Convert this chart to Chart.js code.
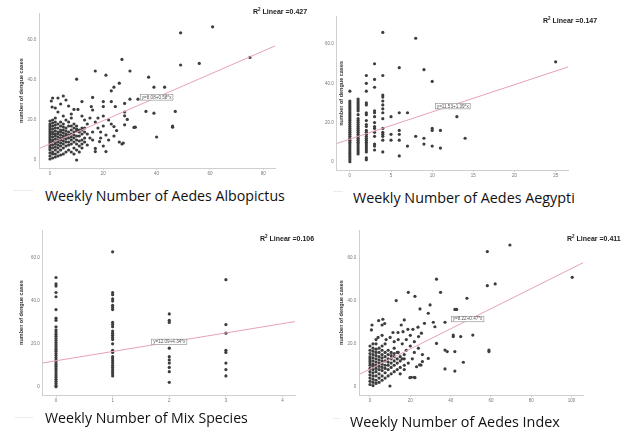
<!DOCTYPE html>
<html><head><meta charset="utf-8">
<script src="https://cdn.jsdelivr.net/npm/chart.js@4"></script>
<style>
html,body{margin:0;padding:0;background:#fff;}
body{width:640px;height:435px;position:relative;overflow:hidden;}
canvas{position:absolute;}
.r2{position:absolute;font-family:"Liberation Sans",Arial,sans-serif;font-weight:bold;font-size:7px;color:#222;white-space:nowrap;line-height:8px;}
.r2 sup{font-size:4.5px;vertical-align:top;line-height:1;}
.cap{position:absolute;white-space:nowrap;color:#111;line-height:1;font-family:"Open Sans",sans-serif;}
.leg{position:absolute;height:1px;background:#ebebeb;}
</style></head><body>
<canvas id="c1"></canvas><canvas id="c2"></canvas><canvas id="c3"></canvas><canvas id="c4"></canvas>
<div class="r2" style="left:253px;top:8px;">R<sup>2</sup> Linear =0.427</div>
<div class="r2" style="left:543px;top:17px;">R<sup>2</sup> Linear =0.147</div>
<div class="r2" style="left:260px;top:235px;">R<sup>2</sup> Linear =0.106</div>
<div class="r2" style="left:567px;top:235px;">R<sup>2</sup> Linear =0.411</div>
<div class="leg" style="left:13px;top:190px;width:20px;"></div>
<div class="leg" style="left:333px;top:191px;width:10px;"></div>
<div class="leg" style="left:15px;top:417px;width:18px;"></div>
<div class="leg" style="left:333px;top:418px;width:7px;"></div>
<div class="cap" id="t1" data-w="240" style="left:45px;">Weekly Number of Aedes Albopictus</div>
<div class="cap" id="t2" data-w="222" style="left:353px;">Weekly Number of Aedes Aegypti</div>
<div class="cap" id="t3" data-w="203" style="left:45px;">Weekly Number of Mix Species</div>
<div class="cap" id="t4" data-w="210" style="left:350px;">Weekly Number of Aedes Index</div>
<script>
// ---------- DATA ----------
const yTicks = [0, 20, 40, 60];
const yAxisTitle = "number of dengue cases";

const albopictusTicks = [0, 20, 40, 60, 80];
const albopictusFit = [8.08, 0.58];
const albopictusEq = "y=8.08+0.58*x";
const albopictusPts = [
[61,66.6],[49,63.6],[75,51.3],[56,48.3],[49,47.5],[27,50.3],[17,44.5],[21,42.4],[30,44.5],[10,40.4],[37,41.4],[26,38.4],[24,36.4],[23,34.6],[39,36.4],[43,36.4],[33,30.4],[30,30.4],[47,24.3],[36,24.3],[39,23.4],[28,22.1],[46,17],[46,16.4],[32,16.4],[28,17.6],[40,11.5],[27.5,8.5],[27,8],[16,31.3],[12,29.2],[20,29.2],[23,29.2],[24.5,26.7],[28,28.3],[28,24],[20,26.7],[15.5,26.7],[16,25],[9,25.3],[10.5,25.3],[29,20.3],[31.5,16.3],[24,16.7],[25,14.7],[21,12.5],[22,10],[18.6,9.2],[17,4.2],[21,4.2],[14,7.5],[17,5.8],[10,0],
[1,31],[0.5,29.5],[3,31],[5,32],[6,30],[0.8,26.5],[2,26],[4,28],[7,27],[3,24],[5,22],[8,23],
[12,22],[13,20],[14,18],[15,21],[17,19],[18,16],[19,14],[20,17],[22,20],[23,18],[20,22],[18,21],[16,14],[14,13],[15,11],[13,9],[12,6],[11,4],[9,3],[16,10],[19,11],[24,12],[26,9],[20,7],
[0,0.5],[0,2],[0,3.5],[0,5],[0,6],[0,7],[0,8],[0,9],[0,10],[0,11],[0,12],[0,13],[0,14],[0,15],[0,16],[0,17],[0,18],[0,19.5],
[1,1],[1,3],[1,4],[1,6],[1,7.5],[1,9],[1,10],[1,11.5],[1,13],[1,14],[1,15.5],[1,17],[1,18.5],[1,20],
[2,1.5],[2,3],[2,5],[2,6.5],[2,8],[2,9],[2,10.5],[2,12],[2,13],[2,14.5],[2,16],[2,17.5],[2,19],[2,21],
[3,2],[3,4],[3,6],[3,7.5],[3,9],[3,10],[3,11.5],[3,13],[3,14],[3,16],[3,18],
[4,2.5],[4,5],[4,7],[4,8.5],[4,10],[4,11],[4,12.5],[4,14],[4,15],[4,17],[4,19],
[5,3],[5,6],[5,8],[5,9.5],[5,11],[5,12],[5,13.5],[5,15],[5,16.5],[5,18],
[6,4],[6,7],[6,9],[6,10.5],[6,12],[6,13],[6,14.5],[6,16],[6,20],
[7,5],[7,7.5],[7,9],[7,11],[7,12.5],[7,14],[7,17],[7,19],
[8,4],[8,8],[8,10],[8,11.5],[8,13],[8,15],[8,17],[8,21],
[9,6],[9,9],[9,11],[9,12.5],[9,14],[9,16],[9,18],
[10,5],[10,8],[10,10],[10,12],[10,14.5],[10,15.5],[10,17],
[11,7],[11,9.5],[11,12],[11,14],[11,15],
[12,8],[12,10],[12,13],[12,15],[12,16],
[13,11],[13,14],[13,16]
];

const aegyptiTicks = [0, 5, 10, 15, 20, 25];
const aegyptiFit = [11.53, 1.39];
const aegyptiEq = "y=11.53+1.39*x";
const aegyptiPts = [
[0,36],[0,31],[0,30],[0,29],[0,28],[0,27],[0,26],[0,25],[0,24],[0,23],[0,22],[0,21],[0,20],[0,19],[0,18],[0,17],[0,16],[0,15],[0,14],[0,13],[0,12],[0,11],[0,10],[0,9],[0,8],[0,7],[0,6],[0,5],[0,4],[0,3],[0,2],[0,1],[0,0],
[1,32],[1,31],[1,30],[1,29],[1,28],[1,27],[1,26],[1,24],[1,22],[1,21],[1,20],[1,19],[1,18],[1,17],[1,16],[1,15],[1,14],[1,13],[1,12],[1,11],[1,10],[1,9],[1,8],[1,7],[1,6],[1,5],[1,4],
[2,44],[2,40],[2,36],[2,30],[2,29],[2,25],[2,24],[2,21],[2,19],[2,18],[2,16],[2,15],[2,14],[2,13],[2,12],[2,11],[2,10],[2,9],[2,8],[2,7],[2,6],[2,5],[2,2],[2,1],
[3,50],[3,42],[3,38],[3,26],[3,25],[3,23],[3,20],[3,18],[3,17],[3,15],[3,13],[3,9],[3,8],[3,6],
[4,66],[4,44],[4,34],[4,33],[4,31],[4,29],[4,27],[4,25],[4,22],[4,17],[4,15],[4,14],[4,13],[4,11],[4,5],
[5,23],[5,14],[5,11],
[6,48],[6,25],[6,16],[6,14],[6,11],[6,3],
[7,25],[7,8],
[8,63],[8,13],
[9,47],[9,12],[9,9],
[10,41],[10,17],[10,16],[10,8],
[11,16],[11,7],
[13,23],[14,12],[25,51]
];

const mixTicks = [0, 1, 2, 3, 4];
const mixFit = [12.09, 4.34];
const mixEq = "y=12.09+4.34*x";
const mixPts = [
[0,51],[0,48],[0,47],[0,44],[0,42],[0,36],[0,32],[0,31],[0,28],[0,26.5],[0,25.5],[0,24.5],[0,23.5],[0,22.5],[0,21.5],[0,20.5],[0,19.5],[0,18.5],[0,17.5],[0,16.5],[0,15.5],[0,14.5],[0,13.5],[0,12.5],[0,11.5],[0,10.5],[0,9.5],[0,8.5],[0,7.5],[0,6.5],[0,5.5],[0,4.5],[0,3.5],[0,2.5],[0,1.5],[0,0.5],[0,0],
[1,63],[1,44],[1,43],[1,41],[1,40],[1,38],[1,37],[1,36],[1,30],[1,29],[1,28],[1,26],[1,25],[1,24],[1,23],[1,22],[1,20],[1,17],[1,16],[1,14],[1,13],[1,12],[1,11],[1,10],[1,9],[1,8],[1,7],[1,6],[1,5],
[2,34],[2,31],[2,30],[2,18],[2,14],[2,12.5],[2,11],[2,9],[2,7],[2,2],
[3,50],[3,29],[3,25],[3,17],[3,16],[3,11],[3,8],[3,5]
];

const indexTicks = [0, 20, 40, 60, 80, 100];
const indexFit = [8.22, 0.47];
const indexEq = "y=8.22+0.47*x";
const indexPts = [
[69.4,66.2],[58.2,63.1],[100.3,51.1],[62.1,48],[58.2,47.2],[33,50.2],[19,44.1],[22.3,42.2],[35,44.1],[13,40.2],[48.1,41.3],[24.8,36.3],[29.8,38.2],[28.9,34.3],[42.1,36.1],[43,36.1],[37.2,30.1],[31.4,30.1],[32.2,28],[27,29.6],[51,24.1],[41.3,24.1],[41.3,23.4],[45,23.4],[33,20.2],[59,17.1],[59,16.4],[37.2,17.1],[38.3,16.4],[42.1,16.4],[28.9,13.2],[46.3,11.4],[37.2,8.3],[42.1,7.3],[25.3,10.1],[23.1,9.3],[19.8,4.2],[22.3,4.2],[9.9,0.3],
[6.4,31.5],[4.3,30.9],[6,28.8],[7.3,29.5],[1,28.8],[0.7,26.5],[17,31.2],[15.5,28.8],[23.8,27.8],[11.4,25.3],[13.9,25.3],[16.4,25.7],[18.8,26.8],[21.3,26.8],[25.5,25],[24.1,23.4],[20,24],[18,22],[22,21],[20,19],[24,18],[22,16],[26,15],[18,17],[16,20],[14,22],[12,21],[26,11.7],[24.6,10.2],[20.5,4.4],[22,4.4],[17,8],[15,6],[19,11],[21,13],[16,13],[14,16],[12,18],[4,23],[6,24],[3,20],[8,22],[10,23],
[0,1],[0,2.5],[0,4],[0,5.5],[0,7],[0,8.5],[0,10],[0,11],[0,12],[0,13],[0,14],[0,15.5],[0,17],[0,19],
[1.5,0.5],[1.5,2],[1.5,3.5],[1.5,5],[1.5,6.5],[1.5,8],[1.5,9.5],[1.5,10.5],[1.5,12],[1.5,13.5],[1.5,15],[1.5,16.5],[1.5,18],[1.5,20],
[3,1.5],[3,3],[3,5],[3,7],[3,8.5],[3,10],[3,11.5],[3,13],[3,14.5],[3,16],[3,17.5],[3,22],
[4.5,2],[4.5,4],[4.5,6],[4.5,8],[4.5,9.5],[4.5,11],[4.5,12.5],[4.5,14],[4.5,16],[4.5,18],
[6,3],[6,5],[6,7.5],[6,9],[6,10.5],[6,12],[6,13.5],[6,15],[6,17],[6,19],
[7.5,4],[7.5,6.5],[7.5,8.5],[7.5,10],[7.5,12],[7.5,14],[7.5,16],[7.5,20],
[9,5],[9,8],[9,10],[9,11.5],[9,13],[9,15],[9,17],
[10.5,6],[10.5,9],[10.5,11],[10.5,13],[10.5,14.5],[10.5,16],
[12,7],[12,10],[12,12],[12,14],[12,15.5],
[13.5,8],[13.5,11],[13.5,13],[13.5,16],
[15,9],[15,12],[15,14],
[17,10],[17,13],[17,15]
];

// ---------- LAYOUT ----------
const panels = [
  {id:'c1', box:[0,0,320,185], area:[39.3,13,275,168], xr:[-4,84.4], yr:[-4,73.5], ticks:albopictusTicks, pts:albopictusPts, fit:albopictusFit, eq:albopictusEq, eqAt:[40,31.3]},
  {id:'c2', box:[320,0,320,187], area:[336.7,16.7,568,170], xr:[-1.6,26.5], yr:[-4.2,74], ticks:aegyptiTicks, pts:aegyptiPts, fit:aegyptiFit, eq:aegyptiEq, eqAt:[12.5,28.4]},
  {id:'c3', box:[0,215,320,197], area:[42.7,230,295,395], xr:[-0.235,4.22], yr:[-3.9,73.2], ticks:mixTicks, pts:mixPts, fit:mixFit, eq:mixEq, eqAt:[2.0,20.9]},
  {id:'c4', box:[320,215,320,197], area:[359.3,230,583.3,395], xr:[-5.3,105.8], yr:[-3.9,73.2], ticks:indexTicks, pts:indexPts, fit:indexFit, eq:indexEq, eqAt:[48.4,31.6]}
];

const eqPlugin = {
  id:'eqLabel',
  afterDatasetsDraw(chart, args, o){
    if(!o || !o.text) return;
    const ctx = chart.ctx;
    const px = chart.scales.x.getPixelForValue(o.x);
    const py = chart.scales.y.getPixelForValue(o.y);
    ctx.save();
    ctx.font = '4.6px "Liberation Sans", Arial, sans-serif';
    const w = ctx.measureText(o.text).width + 3, h = 5.5;
    ctx.fillStyle = '#fff';
    ctx.fillRect(px - w/2, py - h/2, w, h);
    ctx.strokeStyle = '#8a8a8a';
    ctx.lineWidth = 0.6;
    ctx.strokeRect(px - w/2, py - h/2, w, h);
    ctx.fillStyle = '#555';
    ctx.textAlign = 'center';
    ctx.textBaseline = 'middle';
    ctx.fillText(o.text, px, py + 0.2);
    ctx.restore();
  }
};
Chart.register(eqPlugin);

panels.forEach(p => {
  const cv = document.getElementById(p.id);
  const [cx, cy, cw, ch] = p.box;
  const [L, T, R, B] = p.area;
  cv.width = cw; cv.height = ch;
  cv.style.left = cx + 'px'; cv.style.top = cy + 'px';
  cv.style.width = cw + 'px'; cv.style.height = ch + 'px';
  const a = p.fit[0], b = p.fit[1];
  new Chart(cv, {
    type: 'scatter',
    data: {
      datasets: [
        {data: p.pts.map(q => ({x:q[0], y:q[1]})), pointRadius:1.6, pointBackgroundColor:'#3d3d3d', pointBorderWidth:0, order:2},
        {data: [{x:p.xr[0], y:a + b*p.xr[0]}, {x:p.xr[1], y:a + b*p.xr[1]}], showLine:true, pointRadius:0, borderColor:'#e8a2b4', borderWidth:1, order:1}
      ]
    },
    options: {
      responsive:false, animation:false, devicePixelRatio:1,
      layout:{padding:{top:T-cy, right:cx+cw-R, left:0, bottom:0}},
      plugins:{legend:{display:false}, tooltip:{enabled:false}, eqLabel:{text:p.eq, x:p.eqAt[0], y:p.eqAt[1]}},
      scales:{
        x:{type:'linear', min:p.xr[0], max:p.xr[1],
           afterBuildTicks: s => { s.ticks = p.ticks.map(v => ({value:v})); },
           afterFit: s => { s.height = cy + ch - B; },
           grid:{display:true, drawOnChartArea:false, drawTicks:true, tickLength:2, color:'#cfcfcf'},
           border:{display:true, color:'#cfcfcf', width:1},
           ticks:{font:{size:4.5, family:'"Liberation Sans", Arial, sans-serif'}, color:'#777', padding:1.5, maxRotation:0, autoSkip:false, callback: v => String(v)}
        },
        y:{type:'linear', min:p.yr[0], max:p.yr[1],
           afterBuildTicks: s => { s.ticks = yTicks.map(v => ({value:v})); },
           afterFit: s => { s.width = L - cx; },
           grid:{display:true, drawOnChartArea:false, drawTicks:false, color:'#cfcfcf'},
           border:{display:true, color:'#cfcfcf', width:1},
           title:{display:true, text:yAxisTitle, color:'#333', font:{size:5.5, weight:'bold', family:'"Liberation Sans", Arial, sans-serif'}, padding:{top:18, bottom:0}},
           ticks:{font:{size:4.5, family:'"Liberation Sans", Arial, sans-serif'}, color:'#777', padding:3, autoSkip:false, callback: v => v === 0 ? '0' : v.toFixed(1)}
        }
      }
    }
  });
});

// caption sizing to match reference widths
const capY = {t1:197, t2:199, t3:419, t4:423};
const mctx = document.createElement('canvas').getContext('2d');
['t1','t2','t3','t4'].forEach(id => {
  const el = document.getElementById(id);
  mctx.font = '100px "Open Sans"';
  const w = mctx.measureText(el.textContent).width;
  const fs = 100 * (+el.dataset.w) / w;
  el.style.fontSize = fs + 'px';
  el.style.top = (capY[id] - fs*0.55) + 'px';
});
</script>
</body></html>
